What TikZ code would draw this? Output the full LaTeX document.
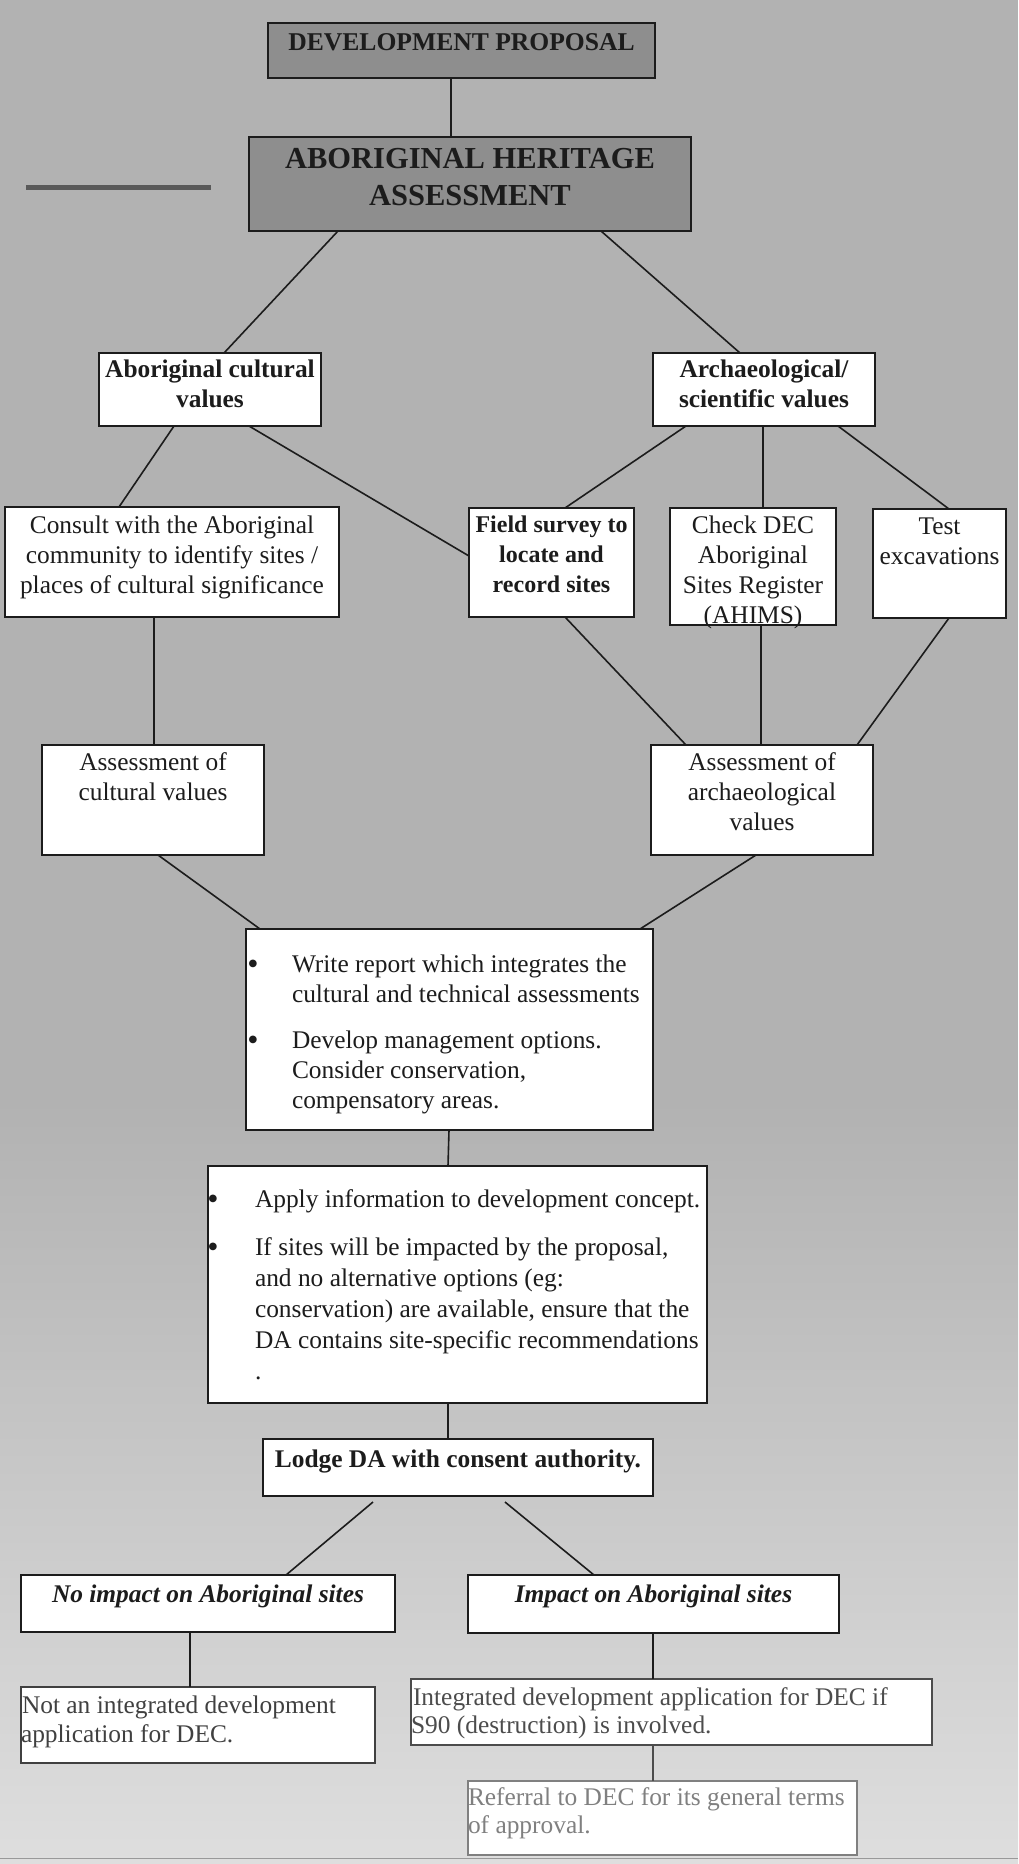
\documentclass[tikz,border=0pt]{standalone}
\usepackage{fontspec}
\setmainfont{Liberation Serif}
\newfontfamily\symfont{DejaVu Sans}
\usetikzlibrary{calc}
\definecolor{bgc}{HTML}{B2B2B2}
\definecolor{bgl}{HTML}{DEDEDE}
\definecolor{gfill}{HTML}{8E8E8E}
\definecolor{ink}{HTML}{1C1C1C}
\newcommand{\bt}[4]{\parbox[c][#2][t]{#1}{\centering\rule{0pt}{#3}#4}}
\newcommand{\bl}[4]{\parbox[c][#2][t]{#1}{\raggedright\rule{0pt}{#3}#4}}
\newcommand{\bul}[2]{\makebox[#1][l]{\hspace*{#2}\raisebox{6pt}{\symfont\fontsize{10}{10}\selectfont ●}}}
\begin{document}
\begin{tikzpicture}[x=1pt,y=-1pt,
  box/.style={draw=ink, line width=1.8pt, fill=white, inner sep=0pt, outer sep=0pt, anchor=north west, text=ink},
  gbox/.style={box, fill=gfill, line width=2pt},
  conn/.style={line width=1.6pt, draw=ink},
  every node/.style={font=\fontsize{25.4}{30}\selectfont}]
\useasboundingbox (0,0) rectangle (1018,1864);
\fill[bgc] (0,0) rectangle (1018,1100);
\shade[top color=bgc, bottom color=bgl] (0,1100) rectangle (1018,1864);

% top grey boxes
\node[gbox] (dev) at (268,23) {\bt{387pt}{55pt}{27pt}{\fontsize{25.6}{30}\selectfont\bfseries DEVELOPMENT PROPOSAL}};
\node[gbox] (ass) at (249,137) {\bt{442pt}{94pt}{31pt}{\fontsize{30.5}{37}\selectfont\bfseries ABORIGINAL HERITAGE\\ASSESSMENT}};
\draw[line width=5pt, draw=black!65] (26,187) -- (211,187);

% second level
\node[box] (acv) at (99,353) {\bt{222pt}{73pt}{24pt}{\bfseries Aboriginal cultural\\values}};
\node[box] (arch) at (653,353) {\bt{222pt}{73pt}{24pt}{\bfseries Archaeological/\\scientific values}};

% third level
\node[box] (cons) at (5,507) {\bt{334pt}{110pt}{26pt}{Consult with the Aboriginal\\community to identify sites /\\places of cultural significance}};
\node[box] (field) at (469,508) {\bt{165pt}{109pt}{24pt}{\fontsize{24}{30}\selectfont\bfseries Field survey to\\locate and\\record sites}};
\node[box] (check) at (670,508) {\bt{166pt}{117pt}{25pt}{Check DEC\\Aboriginal\\Sites Register\\(AHIMS)}};
\node[box] (test) at (873,509) {\bt{133pt}{109pt}{25pt}{Test\\excavations}};

% assessments
\node[box] (acult) at (42,745) {\bt{222pt}{110pt}{25pt}{Assessment of\\cultural values}};
\node[box] (aarch) at (651,745) {\bt{222pt}{110pt}{25pt}{Assessment of\\archaeological\\values}};

% report
\node[box] (write) at (246,929) {\bl{407pt}{201pt}{43pt}{\bul{46pt}{2.5pt}Write report which integrates the\\\hspace*{46pt}cultural and technical assessments\\[16pt]\bul{46pt}{2.5pt}Develop management options.\\\hspace*{46pt}Consider conservation,\\\hspace*{46pt}compensatory areas.}};

\node[box] (apply) at (208,1166) {\bl{499pt}{237pt}{41pt}{\fontsize{25.4}{31}\selectfont\bul{47pt}{0.7pt}Apply information to development concept.\\[17pt]\bul{47pt}{0.7pt}If sites will be impacted by the proposal,\\\hspace*{47pt}and no alternative options (eg:\\\hspace*{47pt}conservation) are available, ensure that the\\\hspace*{47pt}DA contains site-specific recommendations\\\hspace*{47pt}.}};

\node[box] (lodge) at (263,1439) {\bt{390pt}{57pt}{28pt}{\bfseries Lodge DA with consent authority.}};

\node[box] (noimp) at (21,1575) {\bt{374pt}{57pt}{27pt}{\bfseries\itshape No impact on Aboriginal sites}};
\node[box] (imp) at (468,1575) {\bt{371pt}{58pt}{27pt}{\bfseries\itshape Impact on Aboriginal sites}};

\node[box, draw=black!75, text=black!75] (notint) at (21,1687) {\bl{354pt}{76pt}{26pt}{\fontsize{25.4}{29}\selectfont\hspace*{1pt}Not an integrated development\\application for DEC.}};
\node[box, draw=black!70, text=black!70] (integ) at (411,1679) {\bl{521pt}{66pt}{26pt}{\fontsize{25.4}{28}\selectfont\hspace*{2pt}Integrated development application for DEC if\\S90 (destruction) is involved.}};
\node[box, draw=black!50, text=black!50] (ref) at (468,1781) {\bl{389pt}{74pt}{24pt}{\fontsize{25.4}{28}\selectfont Referral to DEC for its general terms\\of approval.}};

% connectors
\draw[conn] ([xshift=183pt]dev.south west) -- ([xshift=202pt]ass.north west);
\draw[conn] ([xshift=89pt]ass.south west) -- ([xshift=125pt]acv.north west);
\draw[conn] ([xshift=352pt]ass.south west) -- ([xshift=87pt]arch.north west);
\draw[conn] ([xshift=75pt]acv.south west) -- ([xshift=114pt]cons.north west);
\draw[conn] ([xshift=150pt]acv.south west) -- ([yshift=-48pt]field.north west);
\draw[conn] ([xshift=33pt]arch.south west) -- ([xshift=96pt]field.north west);
\draw[conn] ([xshift=110pt]arch.south west) -- ([xshift=93pt]check.north west);
\draw[conn] ([xshift=185pt]arch.south west) -- ([xshift=76pt]test.north west);
\draw[conn] ([xshift=149pt]cons.south west) -- ([xshift=112pt]acult.north west);
\draw[conn] ([xshift=96pt]field.south west) -- ([xshift=35pt]aarch.north west);
\draw[conn] ([xshift=91pt]check.south west) -- ([xshift=110pt]aarch.north west);
\draw[conn] ([xshift=76pt]test.south west) -- ([xshift=206pt]aarch.north west);
\draw[conn] ([xshift=116pt]acult.south west) -- ([xshift=14pt]write.north west);
\draw[conn] ([xshift=105pt]aarch.south west) -- ([xshift=394pt]write.north west);
\draw[conn] ([xshift=203pt]write.south west) -- ([xshift=240pt]apply.north west);
\draw[conn] ([xshift=240pt]apply.south west) -- ([xshift=185pt]lodge.north west);
\draw[conn] ([xshift=110pt,yshift=-6pt]lodge.south west) -- ([xshift=265pt]noimp.north west);
\draw[conn] ([xshift=242pt,yshift=-6pt]lodge.south west) -- ([xshift=126pt]imp.north west);
\draw[conn] ([xshift=169pt]noimp.south west) -- ([xshift=169pt]notint.north west);
\draw[conn] ([xshift=185pt]imp.south west) -- ([xshift=242pt]integ.north west);
\draw[conn, draw=black!70] ([xshift=242pt]integ.south west) -- ([xshift=185pt]ref.north west);

% faint bottom rule
\draw[line width=1pt, draw=black!40] (0,1858) -- (1018,1858);
\end{tikzpicture}
\end{document}
